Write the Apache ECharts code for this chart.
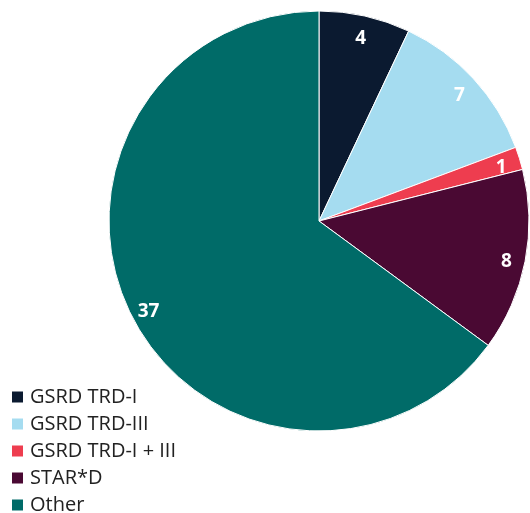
<!DOCTYPE html>
<html><head><meta charset="utf-8">
<script src="https://cdn.jsdelivr.net/npm/echarts@6/dist/echarts.min.js"></script>
<style>html,body{margin:0;padding:0;background:#fff}#c{width:530px;height:513px}</style>
</head><body><div id="c"></div>
<script>
const categories = ["GSRD TRD-I", "GSRD TRD-III", "GSRD TRD-I + III", "STAR*D", "Other"];
const values = [4, 7, 1, 8, 37];
const colors = ["#0b1a30", "#a5dcf0", "#ee3d4f", "#4a0933", "#006b68"];

const data = categories.map((n, i) => ({ name: n, value: values[i], itemStyle: { color: colors[i] } }));
const chart = echarts.init(document.getElementById('c'), null, { renderer: 'canvas' });
chart.setOption({
  animation: false,
  legend: {
    orient: 'vertical', left: 10, top: 387, height: 400, padding: 0,
    itemWidth: 13, itemHeight: 13, itemGap: 7,
    icon: 'rect',
    textStyle: { fontFamily: 'Open Sans', fontSize: 20, color: '#222', padding: [0, 0, 0, 1] },
    data: categories
  },
  series: [{
    type: 'pie', center: [319, 221], radius: [0, 210], startAngle: 90, clockwise: true,
    itemStyle: { borderColor: '#fff', borderWidth: 1 },
    label: { show: false }, labelLine: { show: false },
    data: data
  }, {
    type: 'pie', center: [319, 221], radius: [166, 210], startAngle: 90, clockwise: true,
    silent: true, legendHoverLink: false,
    itemStyle: { color: 'rgba(0,0,0,0)', borderWidth: 0 },
    label: { show: true, position: 'inside', offset: [0, 4], color: '#fff', fontFamily: 'Open Sans', fontWeight: 'bold', fontSize: 19, formatter: '{c}' },
    labelLine: { show: false },
    data: categories.map((n, i) => ({ name: n, value: values[i] }))
  }]
});
</script></body></html>
